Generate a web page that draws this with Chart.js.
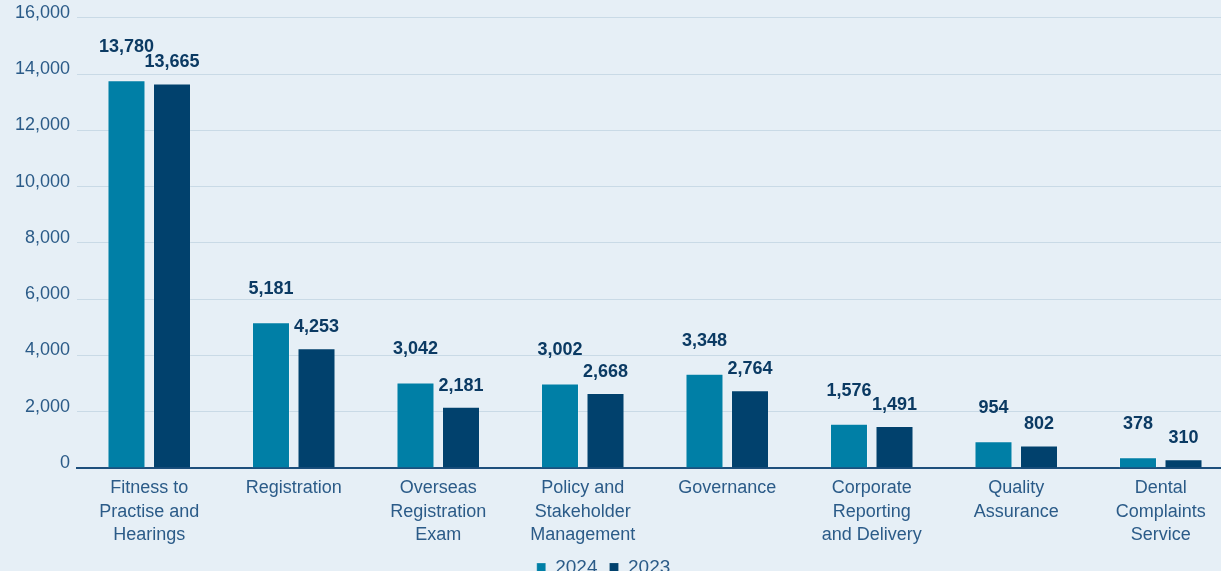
<!DOCTYPE html>
<html>
<head>
<meta charset="utf-8">
<script src="https://cdn.jsdelivr.net/npm/chart.js@4"></script>
<style>
  html, body { margin: 0; padding: 0; background: #e6eff6; overflow: hidden; }
  #grafico { display: block; }
</style>
</head>
<body>
<!-- el lienzo es un poco más ancho que la ventana: la última barra queda al borde, como en el original -->
<canvas id="grafico" width="1233" height="601"></canvas>
<script>
// Datos del gráfico
const categorias = [
    ['Fitness to', 'Practise and', 'Hearings'],
    'Registration',
    ['Overseas', 'Registration', 'Exam'],
    ['Policy and', 'Stakeholder', 'Management'],
    'Governance',
    ['Corporate', 'Reporting', 'and Delivery'],
    ['Quality', 'Assurance'],
    ['Dental', 'Complaints', 'Service']
];
const valores2024 = [13780, 5181, 3042, 3002, 3348, 1576, 954, 378];
const valores2023 = [13665, 4253, 2181, 2668, 2764, 1491, 802, 310];
const series = ['2024', '2023'];

const colorTexto = '#2b5b88';
const colorEtiqueta = '#0b3a63';
const fuente = '"Liberation Sans", Arial, sans-serif';

// Plugin para escribir los valores encima de las barras
const etiquetasPlugin = {
    id: 'etiquetas',
    afterLayout(chart) {
        // centrar la leyenda en la parte visible de la ventana
        chart.legend.left -= 13;
        chart.legend.right -= 13;
    },
    afterDatasetsDraw(chart) {
        const ctx = chart.ctx;
        ctx.save();
        ctx.font = 'bold 18px ' + fuente;
        ctx.fillStyle = colorEtiqueta;
        ctx.textAlign = 'center';
        ctx.textBaseline = 'middle';
        chart.data.datasets.forEach((ds, i) => {
            const meta = chart.getDatasetMeta(i);
            const subida = i === 0 ? 33 : 21; // las de 2024 van un poco más arriba
            meta.data.forEach((bar, j) => {
                ctx.fillText(ds.data[j].toLocaleString('en-US'), bar.x, bar.y - subida);
            });
        });
        ctx.restore();
    }
};

const ctx = document.getElementById('grafico').getContext('2d');
new Chart(ctx, {
    type: 'bar',
    data: {
        labels: categorias,
        datasets: [
            {
                label: series[0],
                data: valores2024,
                backgroundColor: '#007fa6',
                borderColor: 'rgba(255,255,255,0.25)',
                borderWidth: 1
            },
            {
                label: series[1],
                data: valores2023,
                backgroundColor: '#01416d',
                borderColor: 'rgba(255,255,255,0.15)',
                borderWidth: 1
            }
        ]
    },
    options: {
        responsive: false,
        animation: false,
        categoryPercentage: 0.63,
        barPercentage: 0.835,
        layout: {
            padding: { top: 17, left: 0, right: 0, bottom: 14 }
        },
        scales: {
            x: {
                grid: { display: false },
                border: { color: '#1d4f7c', width: 2 },
                ticks: {
                    color: colorTexto,
                    font: { family: fuente, size: 18, lineHeight: 1.28 },
                    padding: 1,
                    maxRotation: 0,
                    autoSkip: false
                },
                afterFit(scale) { scale.height = 78; }
            },
            y: {
                min: 0,
                max: 16000,
                grid: { color: '#c9dae6', lineWidth: 1, drawTicks: false },
                border: { display: false },
                ticks: {
                    stepSize: 2000,
                    color: colorTexto,
                    padding: 7,
                    labelOffset: -5,
                    font: { family: fuente, size: 18 },
                    callback: v => v.toLocaleString('en-US')
                },
                afterFit(scale) { scale.width = 77; }
            }
        },
        plugins: {
            legend: {
                position: 'bottom',
                labels: {
                    color: colorTexto,
                    boxWidth: 9,
                    boxHeight: 9,
                    padding: 12,
                    font: { family: fuente, size: 19 }
                }
            },
            tooltip: { enabled: false }
        }
    },
    plugins: [etiquetasPlugin]
});
</script>
</body>
</html>
